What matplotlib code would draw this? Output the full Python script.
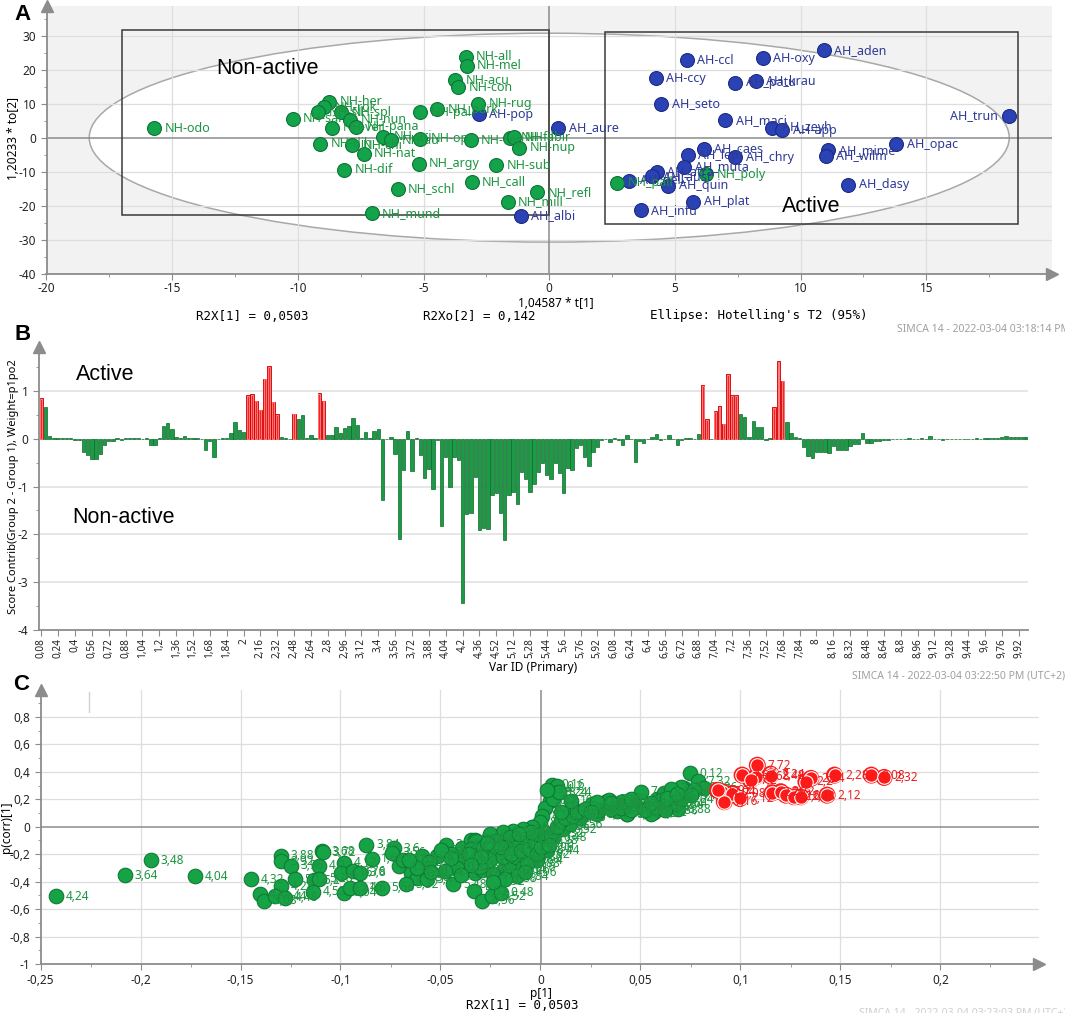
import numpy as np
import matplotlib.pyplot as plt
from matplotlib.patches import Ellipse, Rectangle
from matplotlib.ticker import MultipleLocator, FuncFormatter

plt.rcParams['font.family'] = ['Noto Sans', 'DejaVu Sans']
plt.rcParams['axes.unicode_minus'] = False

# ---------------- panel A : score plot ----------------
nh_names = ['NH-odo', 'NH-sal', 'NH-her', 'NH-rok', 'NH-sil', 'NH-spl', 'NH-nun', 'NH-ver',
            'NH-pana', 'NH-dih', 'NH-chi', 'NH-nat', 'NH-ari', 'NH-au', 'NH-op', 'NH-dif',
            'NH_argy', 'NH_schl', 'NH_mund', 'NH-pal', 'NH_park', 'NH-all', 'NH-mel', 'NH-acu',
            'NH-con', 'NH-rug', 'NH-cep', 'NH_call', 'NH-sub', 'NH-fil', 'NH-abir', 'NH-nup',
            'NH_mill', 'NH_refl', 'NH_pall', 'NH_poly']
nh_t1 = [-15.73, -10.21, -8.76, -8.96, -9.20, -8.28, -7.93, -8.64,
         -7.67, -9.10, -7.85, -7.38, -6.60, -6.30, -5.13, -8.17,
         -5.19, -6.03, -7.06, -5.13, -4.46, -3.33, -3.29, -3.74,
         -3.63, -2.83, -3.13, -3.08, -2.10, -1.55, -1.40, -1.20,
         -1.66, -0.47, 2.69, 6.25]
nh_to2 = [2.7, 5.6, 10.5, 9.0, 7.5, 7.4, 5.3, 2.9,
          3.2, -1.8, -2.2, -4.7, 0.2, -0.8, -0.3, -9.5,
          -7.7, -15.1, -22.2, 7.5, 8.3, 23.8, 21.2, 16.8,
          14.8, 9.9, -0.7, -12.9, -8.1, 0.0, 0.1, -3.0,
          -18.8, -16.1, -13.2, -10.8]

ah_names = ['AH-pop', 'AH_aure', 'AH_albi', 'AH-ccl', 'AH-oxy', 'AH_aden', 'AH-ccy', 'AH_patu',
            'AH_krau', 'AH_seto', 'AH_maci', 'AH_zeyh', 'AH-app', 'AH_trun', 'AH_opac', 'AH_mime',
            'AH_wilm', 'AH_dasy', 'AH_caes', 'AH_lepi', 'AH_chry', 'AH_muta', 'AH_atra', 'AH_aust',
            'AH_pell', 'AH_quin', 'AH_plat', 'AH_infu']
ah_t1 = [-2.80, 0.36, -1.14, 5.48, 8.49, 10.91, 4.24, 7.40,
         8.22, 4.46, 7.00, 8.86, 9.27, 18.27, 13.80, 11.10,
         11.00, 11.90, 6.14, 5.50, 7.40, 5.37, 4.28, 4.10,
         3.19, 4.73, 5.73, 3.64]
ah_to2 = [6.9, 2.9, -23.0, 22.7, 23.3, 25.7, 17.4, 16.1,
          16.7, 10.0, 5.1, 2.9, 2.2, 6.4, -2.0, -3.7,
          -5.4, -13.9, -3.2, -5.2, -5.7, -8.5, -10.0, -11.3,
          -12.7, -14.2, -18.9, -21.4]

# ---------------- panel B : contribution bars ----------------
var_ids = np.round(np.concatenate([np.arange(0.08, 3.25, 0.04),
                                   np.arange(3.40, 4.65, 0.04),
                                   np.arange(5.12, 10.01, 0.04)]), 2)
contrib = [
    0.85, 0.66, 0.05, 0.02, 0.02, 0.02, 0.02, 0.01, -0.02, -0.03,
    -0.27, -0.33, -0.43, -0.42, -0.32, -0.13, -0.05, -0.04, 0.01, -0.02,
    0.01, 0.01, 0.01, 0.01, 0.0, 0.01, -0.13, -0.12, 0.01, 0.27,
    0.33, 0.21, 0.03, 0.02, 0.05, 0.02, 0.02, 0.02, 0.0, -0.23,
    -0.04, -0.39, 0.0, 0.01, 0.01, 0.13, 0.35, 0.19, 0.14, 0.91,
    0.93, 0.80, 0.61, 1.26, 1.52, 0.78, 0.52, 0.04, 0.02, 0.0,
    0.53, 0.42, 0.50, 0.01, 0.07, 0.02, 0.95, 0.80, 0.09, 0.07,
    0.25, 0.12, 0.23, 0.26, 0.44, 0.28, 0.01, 0.15, 0.02, 0.16,
    0.21, -1.28, 0.0, 0.03, -0.32, -2.09, -0.65, 0.16, -0.68, 0.01,
    -0.33, -0.82, -0.63, -1.05, -0.02, -1.83, -0.39, -1.02, -0.38, -0.45,
    -3.45, -1.58, -1.55, -0.79, -1.92, -1.87, -1.88, -1.17, -1.14, -1.55,
    -2.12, -1.17, -1.12, -1.37, -0.70, -0.85, -1.12, -0.95, -0.69, -0.50,
    -0.75, -0.85, -0.50, -0.72, -1.13, -0.62, -0.65, -0.20, -0.13, -0.38,
    -0.57, -0.28, -0.18, -0.03, 0.0, -0.06, 0.01, -0.03, -0.14, 0.07,
    0.0, -0.49, -0.04, -0.08, 0.0, 0.04, 0.10, -0.02, 0.0, 0.09,
    0.0, -0.13, -0.03, 0.01, 0.01, 0.0, 0.10, 1.12, 0.41, 0.0,
    0.58, 0.68, 0.32, 1.36, 0.92, 0.92, 0.52, 0.45, 0.03, 0.37,
    0.25, 0.25, -0.03, 0.01, 0.67, 1.63, 1.22, 0.35, 0.13, 0.03,
    0.01, -0.18, -0.36, -0.41, -0.28, -0.27, -0.27, -0.29, -0.15, -0.23,
    -0.23, -0.23, -0.15, -0.11, -0.10, 0.12, -0.09, -0.08, -0.05, -0.04,
    -0.02, -0.02, -0.01, -0.01, 0.0, 0.0, 0.01, 0.0, 0.0, 0.01,
    0.0, 0.05, 0.0, 0.0, -0.03, -0.01, -0.01, 0.0, -0.01, 0.0,
    0.0, 0.0, 0.01, 0.0, 0.01, 0.01, 0.02, 0.02, 0.03, 0.05,
    0.03, 0.03, 0.03, 0.03, 0.03]
red_bars = [0, 49, 50, 51, 52, 53, 54, 55, 56, 60, 66, 67,
            157, 158, 160, 161, 162, 163, 164, 165, 174, 175, 176]

# ---------------- panel C : S-plot ----------------
g_p = [-0.2422, -0.2078, -0.1948, -0.1728, -0.1448, -0.1298, -0.1298, -0.1250, -0.1228, -0.1297,
       -0.1405, -0.1383, -0.1330, -0.1276, -0.1107, -0.1095, -0.1090, -0.1135, -0.1107, -0.1138,
       -0.0983, -0.1000, -0.0940, -0.0905, -0.0983, -0.0955, -0.0902, -0.0871, -0.0845, -0.0793,
       -0.0733, -0.0741, -0.0707, -0.0690, -0.0647, -0.0620, -0.0595, -0.0673, -0.0569, -0.0517,
       -0.0474, -0.0436, -0.0393, -0.0350, -0.0328, -0.0328, -0.0331, -0.0293, -0.0241, -0.0198,
       -0.0255, -0.0224, -0.0241, -0.0163, -0.0119, -0.0083, -0.0040, -0.0293, -0.0188, -0.0138,
       0.0055, 0.0081, 0.0072, 0.0047, 0.0022, 0.0005, -0.0003, -0.0045, -0.0087, -0.0138,
       -0.0188, -0.0255, -0.0322, -0.0347, -0.0289, -0.0221, -0.0154, -0.0171, -0.0104, -0.0054,
       -0.0255, -0.0188, -0.0121, -0.0054, -0.0305, -0.0238, -0.0154, -0.0087, -0.0020, 0.0030,
       0.0064, 0.0114, 0.0148, 0.0198, 0.0248, 0.0282, 0.0332, 0.0383, 0.0433, 0.0500,
       0.0466, 0.0534, 0.0584, 0.0617, 0.0651, 0.0685, 0.0718, 0.0747, 0.0785, 0.0819,
       0.0567, 0.0344, 0.0258, 0.0155, 0.0223, 0.0292, 0.0430, 0.0464, 0.0550, 0.0601,
       0.0670, 0.0704, 0.0765, 0.0653, -0.0400, -0.0360, -0.0300, -0.0270, -0.0200, -0.0150,
       -0.0100, -0.0060, -0.0030, -0.0010, 0.0020, 0.0050, 0.0080, 0.0100, 0.0120, 0.0160,
       0.0180, 0.0220, 0.0300, 0.0350, 0.0400, 0.0450, 0.0520, 0.0580, 0.0620, 0.0400,
       0.0100, 0.0150, -0.0350, -0.0420, -0.0450, -0.0480, -0.0050, -0.0110, -0.0070, -0.0020,
       0.0000, 0.0040, -0.0120, -0.0180, -0.0240, -0.0080, -0.0560, -0.0620, -0.0660, -0.0500,
       -0.0450, -0.0400, 0.0280, 0.0350, 0.0250, 0.0450, 0.0550, 0.0630, 0.0700, 0.0750,
       0.0680, 0.0060, 0.0090, 0.0030, -0.0550]
g_pcorr = [-0.505, -0.355, -0.244, -0.360, -0.384, -0.210, -0.250, -0.283, -0.384, -0.433,
           -0.493, -0.541, -0.505, -0.517, -0.283, -0.179, -0.185, -0.389, -0.379, -0.474,
           -0.263, -0.336, -0.324, -0.336, -0.481, -0.445, -0.445, -0.131, -0.234, -0.445,
           -0.155, -0.190, -0.288, -0.239, -0.336, -0.372, -0.215, -0.420, -0.384, -0.215,
           -0.131, -0.420, -0.155, -0.094, -0.094, -0.336, -0.469, -0.541, -0.505, -0.481,
           -0.190, -0.070, -0.167, -0.251, -0.094, -0.034, 0.000, -0.312, -0.324, -0.312,
           0.304, 0.296, 0.248, 0.188, 0.140, 0.080, 0.031, -0.005, -0.017, -0.029,
           -0.041, -0.053, -0.101, -0.161, -0.149, -0.101, -0.077, -0.149, -0.125, -0.101,
           -0.246, -0.222, -0.246, -0.222, -0.294, -0.342, -0.318, -0.294, -0.246, -0.173,
           -0.077, -0.017, 0.019, 0.067, 0.140, 0.092, 0.188, 0.116, 0.092, 0.255,
           0.164, 0.140, 0.200, 0.248, 0.164, 0.128, 0.284, 0.390, 0.333, 0.284,
           0.104, 0.198, 0.169, 0.145, 0.108, 0.120, 0.096, 0.145, 0.096, 0.193,
           0.169, 0.289, 0.265, 0.277, -0.250, -0.200, -0.220, -0.120, -0.150, -0.200,
           -0.180, -0.160, -0.120, -0.060, -0.100, -0.050, 0.000, 0.040, 0.060, 0.080,
           0.110, 0.130, 0.150, 0.130, 0.140, 0.120, 0.120, 0.140, 0.120, 0.180,
           0.110, 0.190, -0.280, -0.300, -0.200, -0.320, -0.040, -0.050, -0.270, -0.200,
           -0.150, -0.130, -0.360, -0.380, -0.400, -0.330, -0.260, -0.300, -0.240, -0.170,
           -0.230, -0.350, 0.180, 0.170, 0.110, 0.200, 0.170, 0.210, 0.200, 0.230,
           0.240, 0.200, 0.250, 0.270, -0.330]
g_lab = ['4,24', '3,64', '3,48', '4,04', '4,32', '3,88', '3,92', '3,96', '5,12', '4,28',
         '4,4', '3,08', '4,44', '4,48', '4,0', '3,68', '3,72', '5,2', '5,28', '4,52',
         '4,12', '4,16', '3,76', '3,8', '5,04', '5,16', '4,6', '3,84', '1,68', '5,56',
         '3,6', '3,56', '4,36', '3,52', '5,24', '5,36', '4,08', '5,32', '5,4', '4,56',
         '3,44', '5,48', '5,6', '5,64', '5,68', '5,72', '5,52', '0,56', '0,52', '0,48',
         '5,76', '5,8', '5,84', '5,88', '5,92', '5,96', '6,0', '0,44', '0,6', '0,64',
         '0,16', '0,2', '8,24', '8,2', '8,16', '8,12', '8,08', '6,04', '6,08', '6,12',
         '6,16', '6,2', '1,2', '1,24', '6,24', '6,28', '6,32', '0,4', '0,68', '0,72',
         '1,72', '1,76', '1,8', '6,36', '1,04', '1,08', '1,12', '1,16', '6,4', '6,44',
         '6,48', '6,52', '6,56', '6,6', '8,48', '8,52', '8,56', '8,6', '8,64', '7,0',
         '8,68', '8,72', '8,76', '8,8', '8,84', '8,88', '7,28', '0,12', '7,32', '7,36',
         '8,92', '7,48', '8,96', '9,0', '9,04', '9,08', '9,12', '9,16', '9,2', '9,24',
         '6,64', '7,4', '7,44', '7,52', '1,28', '1,32', '1,36', '1,4', '1,44', '1,48',
         '1,52', '1,56', '1,6', '1,64', '9,28', '9,32', '9,36', '9,4', '9,44', '9,52',
         '9,56', '9,6', '9,64', '9,68', '9,72', '9,76', '9,8', '9,84', '9,88', '9,92',
         '9,96', '10', '0,28', '0,32', '0,36', '0,76', '0,8', '0,84', '0,88', '0,92',
         '0,96', '1,0', '1,84', '1,88', '1,92', '1,96', '2,0', '2,52', '2,56', '2,6',
         '2,64', '2,68', '2,8', '2,84', '2,88', '2,92', '2,96', '3,0', '3,04', '3,12',
         '3,16', '3,2', '3,24', '3,4', '0,24']

r_p = [0.1084, 0.1008, 0.1076, 0.1151, 0.1050, 0.1352, 0.1327, 0.1470, 0.1654, 0.1718,
       0.0908, 0.0958, 0.0919, 0.0997, 0.1159, 0.1201, 0.1227, 0.1268, 0.1302, 0.1433,
       0.0885, 0.1150]
r_pcorr = [0.448, 0.376, 0.364, 0.383, 0.339, 0.352, 0.327, 0.376, 0.376, 0.359,
           0.255, 0.242, 0.182, 0.206, 0.247, 0.255, 0.230, 0.218, 0.218, 0.230,
           0.265, 0.370]
r_lab = ['7,72', '7,64', '7,68', '7,24', '7,2', '2,24', '2,2', '2,28', '0,08', '2,32',
         '7,04', '7,08', '7,16', '7,12', '2,76', '2,72', '2,16', '2,04', '2,08', '2,12',
         '6,92', '2,48']

# ---------------- figure ----------------
W, H = 1065, 1013
fig = plt.figure(figsize=(W / 100, H / 100), dpi=100)
AX_COL = '#8c8c8c'
GRID = '#dedede'
GREEN, GREEN_E, GREEN_T = '#13a34a', '#0b7432', '#1c9440'
BLUE, BLUE_E, BLUE_T = '#2b42b4', '#1c2b85', '#2e3a96'


def ax_px(l, t, r, b):
    return fig.add_axes([l / W, 1 - b / H, (r - l) / W, (b - t) / H])


def txt(x, y, s, **kw):
    return fig.text(x / W, 1 - y / H, s, **kw)


def style_axes(ax, xarrow=True):
    for s in ['top', 'right']:
        ax.spines[s].set_visible(False)
    for s in ['left', 'bottom']:
        ax.spines[s].set_color(AX_COL)
        ax.spines[s].set_linewidth(1.3)
    ax.tick_params(which='both', colors=AX_COL, labelcolor='#222222', labelsize=8.5)
    ax.tick_params(which='major', length=4)
    ax.tick_params(which='minor', length=2.5)
    ax.plot(0, 1, marker='^', ms=8, color=AX_COL, transform=ax.transAxes, clip_on=False, zorder=6)
    if xarrow:
        ax.plot(1, 0, marker='>', ms=8, color=AX_COL, transform=ax.transAxes, clip_on=False, zorder=6)


def comma_fmt(v, pos):
    v = round(v, 4) + 0.0
    if abs(v) < 1e-9:
        return '0'
    return ('%g' % v).replace('.', ',')


comma = FuncFormatter(comma_fmt)

# ---- A ----
axA = ax_px(46.5, 6, 1052, 273.7)
axA.set_xlim(-20, 20)
axA.set_ylim(-40, 38.7)
axA.set_facecolor('#f2f2f2')
style_axes(axA)
axA.set_xticks(np.arange(-20, 16, 5))
axA.set_xticklabels(['-20', '-15', '-10', '-5', '0', '5', '10', '15'])
axA.set_yticks(np.arange(-40, 31, 10))
axA.xaxis.set_minor_locator(MultipleLocator(2.5))
axA.yaxis.set_minor_locator(MultipleLocator(5))
axA.tick_params(axis='x', pad=2)
axA.add_patch(Ellipse((0, 0), 2 * 18.3, 2 * 30.7, facecolor='white', edgecolor='#a8a8a8', lw=1.1, zorder=0.6))
for v in [-15, -10, -5, 5, 10, 15]:
    axA.axvline(v, color=GRID, lw=0.9, zorder=0.8)
for h in [-30, -20, -10, 10, 20, 30]:
    axA.axhline(h, color=GRID, lw=0.9, zorder=0.8)
axA.axhline(0, color=AX_COL, lw=1.1, zorder=1)
axA.axvline(0, color=AX_COL, lw=1.1, zorder=1)
axA.add_patch(Rectangle((-17.0, -22.8), 17.0, 54.3, fill=False, edgecolor='#3a3a3a', lw=1.1, zorder=2))
axA.add_patch(Rectangle((2.21, -25.4), 16.42, 56.4, fill=False, edgecolor='#3a3a3a', lw=1.1, zorder=2))

axA.scatter(ah_t1, ah_to2, s=100, c=BLUE, edgecolors=BLUE_E, linewidths=0.8, zorder=3)
axA.scatter(nh_t1, nh_to2, s=100, c=GREEN, edgecolors=GREEN_E, linewidths=0.8, zorder=3)
for n, x, y in zip(ah_names, ah_t1, ah_to2):
    if n == 'AH_trun':
        axA.annotate(n, (x, y), xytext=(-7.5, 0), textcoords='offset points', ha='right', va='center',
                     fontsize=9, color=BLUE_T, zorder=4)
    else:
        axA.annotate(n, (x, y), xytext=(7.5, 0), textcoords='offset points', va='center',
                     fontsize=9, color=BLUE_T, zorder=4)
for n, x, y in zip(nh_names, nh_t1, nh_to2):
    axA.annotate(n, (x, y), xytext=(7.5, 0), textcoords='offset points', va='center',
                 fontsize=9, color=GREEN_T, zorder=4)
axA.text(-13.26, 20.4, 'Non-active', fontsize=15.5, family='Liberation Sans', va='center', zorder=5)
axA.text(9.24, -20.1, 'Active', fontsize=15.5, family='Liberation Sans', va='center', zorder=5)

txt(14, 15, 'A', fontsize=16, fontweight='bold', family='Liberation Sans', va='center')
txt(13.8, 139, '1,20233 * to[2]', rotation=90, fontsize=8.5, ha='center', va='center')
txt(556, 303, '1,04587 * t[1]', fontsize=8.5, ha='center', va='center')
txt(252, 316, 'R2X[1] = 0,0503', fontsize=9, family='DejaVu Sans Mono', ha='center', va='center')
txt(479, 316, 'R2Xo[2] = 0,142', fontsize=9, family='DejaVu Sans Mono', ha='center', va='center')
txt(650, 316, "Ellipse: Hotelling's T2 (95%)", fontsize=9, family='DejaVu Sans Mono', va='center')
txt(897, 329, 'SIMCA 14 - 2022-03-04 03:18:14 PM (UTC+2)', fontsize=7.5, color='#a0a0a0', va='center')

# ---- B ----
axB = ax_px(38.9, 346.7, 1028.3, 629.7)
xb = np.arange(len(contrib))
axB.set_xlim(-0.57, 234.3)
axB.set_ylim(-4, 1.93)
style_axes(axB, xarrow=False)
for h in [1, -1, -2, -3]:
    axB.axhline(h, color='#e6e6e6', lw=1.4, zorder=0.5)
is_red = np.isin(xb, red_bars)
vals = np.array(contrib)
axB.bar(xb[~is_red], vals[~is_red], width=0.8, color='#1d9a45', edgecolor='#0c6a2b',
        linewidth=0.5, zorder=2)
axB.bar(xb[is_red], vals[is_red], width=0.85, color='#ff2020', edgecolor='#d00000',
        linewidth=0.6, zorder=2)
axB.bar(xb[is_red], vals[is_red] - np.sign(vals[is_red]) * 0.015, width=0.45, fill=False,
        edgecolor='#ffc4c4', linewidth=0.4, zorder=2.5)
tick_idx = xb[::4][:59]
axB.set_xticks(tick_idx)
axB.set_xticklabels([('%g' % var_ids[i]).replace('.', ',') for i in tick_idx], rotation=90, fontsize=7.2)
axB.tick_params(axis='x', pad=2)
axB.set_yticks(np.arange(-4, 2, 1))
axB.yaxis.set_minor_locator(MultipleLocator(0.5))
txt(75.8, 375, 'Active', fontsize=15.5, family='Liberation Sans', va='center')
txt(72, 517, 'Non-active', fontsize=15.5, family='Liberation Sans', va='center')
txt(14, 334, 'B', fontsize=16, fontweight='bold', family='Liberation Sans', va='center')
txt(13.8, 487, 'Score Contrib(Group 2 - Group 1), Weight=p1po2', rotation=90, fontsize=8,
    ha='center', va='center')
txt(533, 667, 'Var ID (Primary)', fontsize=8.5, ha='center', va='center')
txt(852, 676, 'SIMCA 14 - 2022-03-04 03:22:50 PM (UTC+2)', fontsize=7.5, color='#a0a0a0', va='center')

# ---- C ----
axC = ax_px(40.5, 690, 1038.5, 964)
axC.set_xlim(-0.25, 0.249)
axC.set_ylim(-1, 0.996)
style_axes(axC)
axC.set_xticks(np.arange(-0.25, 0.21, 0.05))
axC.set_yticks(np.arange(-1, 0.81, 0.2))
axC.xaxis.set_minor_locator(MultipleLocator(0.025))
axC.yaxis.set_minor_locator(MultipleLocator(0.1))
axC.xaxis.set_major_formatter(comma)
axC.yaxis.set_major_formatter(comma)
for v in np.arange(-0.2, 0.21, 0.05):
    if abs(v) > 1e-9:
        axC.axvline(v, color=GRID, lw=0.9, zorder=0.5)
for h in np.arange(-0.8, 0.81, 0.2):
    if abs(h) > 1e-9:
        axC.axhline(h, color=GRID, lw=0.9, zorder=0.5)
axC.axhline(0, color=AX_COL, lw=1.1, zorder=1)
axC.axvline(0, color=AX_COL, lw=1.1, zorder=1)
axC.plot([-0.2257, -0.2257], [0.838, 0.984], color='#d0d0d0', lw=1)

axC.scatter(g_p, g_pcorr, s=110, c='#15a345', edgecolors='#0d7a35', linewidths=0.8, zorder=3)
for x, y, l in zip(g_p, g_pcorr, g_lab):
    axC.annotate(l, (x, y), xytext=(7, 0), textcoords='offset points', va='center',
                 fontsize=8.5, color=GREEN_T, zorder=4)
axC.scatter(r_p, r_pcorr, s=150, c='#ff1a1a', edgecolors='none', zorder=5)
axC.scatter(r_p, r_pcorr, s=95, c='#ff1a1a', edgecolors='white', linewidths=0.8, zorder=5)
for x, y, l in zip(r_p, r_pcorr, r_lab):
    axC.annotate(l, (x, y), xytext=(7.5, 0), textcoords='offset points', va='center',
                 fontsize=8.5, color='#ee1c1c', zorder=6)

txt(13, 684, 'C', fontsize=16, fontweight='bold', family='Liberation Sans', va='center')
txt(7, 827, 'p(corr)[1]', rotation=90, fontsize=8.5, ha='center', va='center')
txt(541, 993, 'p[1]', fontsize=8.5, ha='center', va='center')
txt(522, 1005, 'R2X[1] = 0,0503', fontsize=9, family='DejaVu Sans Mono', ha='center', va='center')
txt(859, 1013, 'SIMCA 14 - 2022-03-04 03:23:03 PM (UTC+2)', fontsize=7.5, color='#cfcfcf', va='center')

fig.savefig('out.png', dpi=100)
